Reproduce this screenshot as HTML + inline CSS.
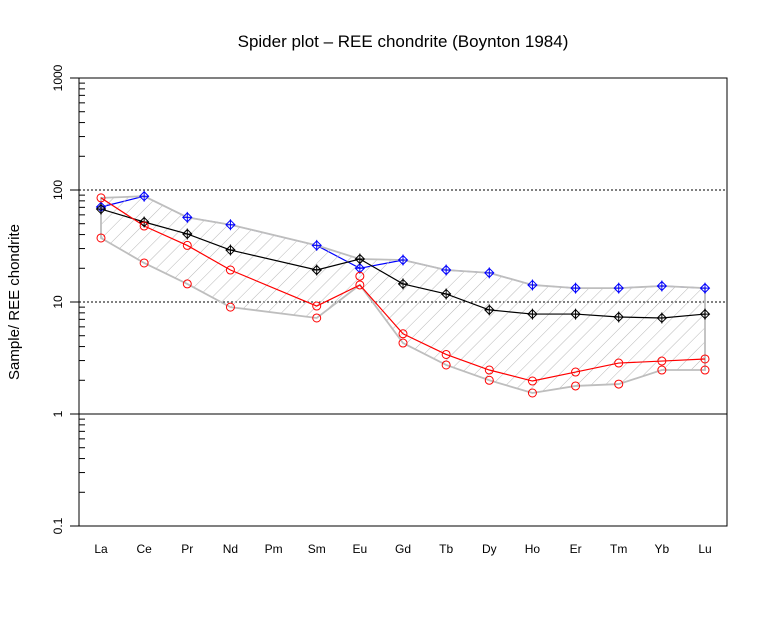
<!DOCTYPE html>
<html><head><meta charset="utf-8"><style>
body{margin:0;background:#fff}
svg{display:block;font-family:"Liberation Sans",Arial,sans-serif}
</style></head><body>
<svg id="c" width="768" height="624" viewBox="0 0 768 624">
<defs>
<pattern id="hatch" patternUnits="userSpaceOnUse" width="10" height="10" patternTransform="rotate(45)">
<line x1="0" y1="-1" x2="0" y2="11" stroke="#b8b8b8" stroke-width="1"/>
</pattern>
</defs>
<rect x="0" y="0" width="768" height="624" fill="#fff"/>
<text x="403" y="47" font-size="17" text-anchor="middle">Spider plot – REE chondrite (Boynton 1984)</text>
<text transform="translate(19,302) rotate(-90)" font-size="15" text-anchor="middle">Sample/ REE chondrite</text>
<g id="plot"></g>
</svg>
<script>
const categories=["La","Ce","Pr","Nd","Pm","Sm","Eu","Gd","Tb","Dy","Ho","Er","Tm","Yb","Lu"];
const blueValues=[70.5,88,57,49,null,32,20,23.7,19.3,18.2,14.2,13.3,13.3,13.9,13.3];
const blackValues=[67.6,51.8,40.5,29.1,null,19.3,24.2,14.5,11.8,8.5,7.8,7.8,7.35,7.2,7.8];
const redLineValues=[85,47.7,32,19.3,null,9.2,14.2,5.2,3.4,2.47,1.97,2.37,2.85,2.97,3.1];
const redPointValues=[37.3,22.3,14.5,9.0,null,7.2,17,4.3,2.74,2.0,1.54,1.78,1.85,2.47,2.47];
const yTickValues=[0.1,1,10,100,1000];
const yTickLabels=["0.1","1","10","100","1000"];

const L=79,R=727,T=78,B=526;
const NS="http://www.w3.org/2000/svg";
const g=document.getElementById("plot");
function xs(i){return 101+i*(705-101)/(categories.length-1);}
function ys(v){return B-(Math.log10(v)-Math.log10(0.1))/4*(B-T);}
function mk(tag,attrs,parent){const e=document.createElementNS(NS,tag);for(const k in attrs)e.setAttribute(k,attrs[k]);(parent||g).appendChild(e);return e;}

const series=[blueValues,blackValues,redLineValues,redPointValues];
const upperPts=[],lowerPts=[];
categories.forEach((c,i)=>{const vals=series.map(s=>s[i]).filter(v=>v!=null);if(!vals.length)return;
upperPts.push([xs(i),ys(Math.max(...vals))]);lowerPts.push([xs(i),ys(Math.min(...vals))]);});
const envPts=upperPts.concat(lowerPts.slice().reverse()).map(p=>p.join(",")).join(" ");

let e=mk("line",{x1:L,x2:R,y1:ys(1),y2:ys(1),stroke:"#000","stroke-width":1});


[10,100].forEach(v=>{const l=mk("line",{x1:L,x2:R,y1:ys(v),y2:ys(v),stroke:"#000","stroke-width":1,"stroke-dasharray":"2,2"});

});

function drawLine(vals,color,name){
  const s=[];
  vals.forEach((v,i)=>{if(v!=null)s.push([xs(i),ys(v)]);});
  const p=mk("polyline",{points:s.map(q=>q.join(",")).join(" "),fill:"none",stroke:color,"stroke-width":1.2});
  
  
}
drawLine(blueValues,"#0000ff","blue-series");

const env=mk("polygon",{points:envPts,fill:"url(#hatch)",stroke:"#bebebe","stroke-width":1.8});



drawLine(blackValues,"#000","black-series");
drawLine(redLineValues,"#ff0000","red-series");

function diamond(vals,color,name){vals.forEach((v,i)=>{if(v==null)return;const x=xs(i),y=ys(v),r=4.5;
  const m=mk("path",{d:`M${x},${y-r}L${x+r},${y}L${x},${y+r}L${x-r},${y}Z M${x},${y-r-1}V${y+r+1} M${x-r},${y}H${x+r}`,fill:"none",stroke:color,"stroke-width":1});
  
  });}
function circles(vals,color,name){vals.forEach((v,i)=>{if(v==null)return;
  const m=mk("circle",{cx:xs(i),cy:ys(v),r:4,fill:"none",stroke:color,"stroke-width":1});
  
  });}
diamond(blueValues,"#0000ff","blue-series");
diamond(blackValues,"#000","black-series");
circles(redLineValues,"#ff0000","red-series");
circles(redPointValues,"#ff0000","red-points");

const fr=mk("rect",{x:L,y:T,width:R-L,height:B-T,fill:"none",stroke:"#000","stroke-width":1});



yTickValues.forEach((v,k)=>{const y=ys(v);
  const t=mk("line",{x1:70,x2:L,y1:y,y2:y,stroke:"#000","stroke-width":1});
  
  
  const tx=mk("text",{transform:`translate(62,${y}) rotate(-90)`,"font-size":"12","text-anchor":"middle"});
  tx.textContent=yTickLabels[k];
  
  
  if(k<yTickValues.length-1){for(let m=2;m<=9;m++){const yy=ys(v*m);
    const mt=mk("line",{x1:L,x2:L+6,y1:yy,y2:yy,stroke:"#000","stroke-width":1});
    
    }}
});
categories.forEach((c,i)=>{const t=mk("text",{x:xs(i),y:553,"font-size":"12","text-anchor":"middle"});
  t.textContent=c;
  
  });
</script>
</body></html>
